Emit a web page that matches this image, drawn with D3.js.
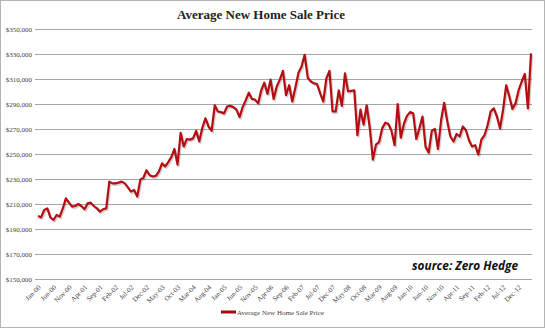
<!DOCTYPE html>
<html><head><meta charset="utf-8">
<script src="https://cdn.jsdelivr.net/npm/d3@7"></script>
<style>html,body{margin:0;padding:0;background:#fff;}</style>
</head><body>
<svg id="chart" width="545" height="328"></svg>
<script>
const title = "Average New Home Sale Price";
const seriesName = "Average New Home Sale Price";
const sourceText = "source: Zero Hedge";
const monthNames = ["Jan","Feb","Mar","Apr","May","Jun","Jul","Aug","Sep","Oct","Nov","Dec"];
const years = ["00","01","02","03","04","05","06","07","08","09","10","11","12","13"];
const tickLabels = ["Jan-00","Jun-00","Nov-00","Apr-01","Sep-01","Feb-02","Jul-02","Dec-02","May-03","Oct-03","Mar-04","Aug-04","Jan-05","Jun-05","Nov-05","Apr-06","Sep-06","Feb-07","Jul-07","Dec-07","May-08","Oct-08","Mar-09","Aug-09","Jan-10","Jun-10","Nov-10","Apr-11","Sep-11","Feb-12","Jul-12","Dec-12"];
const yTicks = [150000,170000,190000,210000,230000,250000,270000,290000,310000,330000,350000];
const prices = [
200400,199300,205200,206500,199300,197200,201200,199900,206500,214500,211100,207900,
208400,210000,208400,205800,210500,211100,208400,206500,203900,205800,206500,227900,
226500,226500,227100,227900,226500,223300,219900,221200,215900,229500,231000,237000,
233000,232000,232500,236000,242500,240000,243500,247500,254000,241500,267000,256000,
262000,261500,262500,268500,260000,271000,278500,272000,268500,289000,284000,283500,
282500,288000,288500,287500,285500,279500,287500,293000,299000,294000,293500,290500,
301000,307000,298000,309500,294000,304000,309500,316500,297000,305000,292000,303000,
315000,320000,329400,311000,308000,306500,306000,298500,292000,310500,316500,284000,
284000,301000,288500,314500,300000,300500,301000,265000,285500,273500,289000,271000,
245500,257500,259500,270500,275000,274000,268500,257000,290000,263000,274000,280500,
283500,282500,262000,270500,280000,255700,251100,268500,270000,254000,277000,291000,
276000,264000,260000,266000,264000,272000,269000,261000,256000,257000,249500,261500,
265000,273000,284000,286500,280000,270500,285500,305000,296000,286000,290500,301000,
308000,314000,286500,330500];

const categories = [];
years.forEach(y => monthNames.forEach(m => categories.push(m + "-" + y)));
const cats = categories.slice(0, prices.length);

const svg = d3.select("#chart");
svg.append("rect").attr("x",0.5).attr("y",0.5).attr("width",544).attr("height",327)
  .attr("fill","#fff").attr("stroke","#b4b4b4");

svg.append("text").attr("x",261).attr("y",19).attr("text-anchor","middle")
  .attr("font-family","'Liberation Serif','DejaVu Serif',serif").attr("font-weight","bold")
  .attr("font-size",13).attr("fill","#222").text(title);

const x = d3.scalePoint().domain(cats).range([38, 531]);
const y = d3.scaleLinear().domain([150000, 350000]).range([279, 29]);

const serif = "'Liberation Serif','Times New Roman',serif";

// grid
svg.append("g").selectAll("line").data(yTicks).join("line")
  .attr("x1",35).attr("x2",532)
  .attr("y1",d=>Math.round(y(d))+0.5).attr("y2",d=>Math.round(y(d))+0.5)
  .attr("stroke","#a6a6a6").attr("stroke-width",1);

// y axis
const yAxis = d3.axisLeft(y).tickValues(yTicks).tickSize(0).tickPadding(0)
  .tickFormat(d => "$" + d3.format(",")(d));
const gy = svg.append("g").attr("transform","translate(32,0)").call(yAxis);
gy.select(".domain").remove();
gy.selectAll("text").attr("font-family",serif).attr("font-size",7).attr("fill","#444");

// x axis
const xAxis = d3.axisBottom(x).tickValues(tickLabels).tickSize(0).tickPadding(0);
const gx = svg.append("g").attr("transform","translate(0,284)").call(xAxis);
gx.select(".domain").remove();
gx.selectAll("text").attr("font-family",serif).attr("font-size",7).attr("fill","#444")
  .attr("text-anchor","end").attr("dy","0.35em").attr("dx","0")
  .attr("y",0).attr("x",0)
  .attr("transform","translate(1,2) rotate(-45)");

// line
const line = d3.line().x((d,i)=>x(cats[i])).y(d=>y(d));
svg.append("path").datum(prices).attr("d",line)
  .attr("transform","translate(1.2,1.5)")
  .attr("fill","none").attr("stroke","rgba(0,0,0,0.18)").attr("stroke-width",2.2)
  .attr("stroke-linejoin","round");
svg.append("path").datum(prices).attr("d",line)
  .attr("fill","none").attr("stroke","#b50d12").attr("stroke-width",2.2)
  .attr("stroke-linejoin","round");

// source
svg.append("text").attr("x",412).attr("y",270)
  .attr("font-family","'Open Sans','Liberation Sans',sans-serif")
  .attr("font-weight","bold").attr("font-style","italic").attr("font-size",11.5)
  .attr("textLength",106).attr("lengthAdjust","spacingAndGlyphs")
  .attr("fill","#111").text(sourceText);

// legend
svg.append("line").attr("x1",221).attr("x2",236).attr("y1",312).attr("y2",312)
  .attr("stroke","#a50a10").attr("stroke-width",3);
svg.append("text").attr("x",237).attr("y",314.5)
  .attr("font-family",serif).attr("font-size",7).attr("fill","#444").text(seriesName);
</script>
</body></html>
